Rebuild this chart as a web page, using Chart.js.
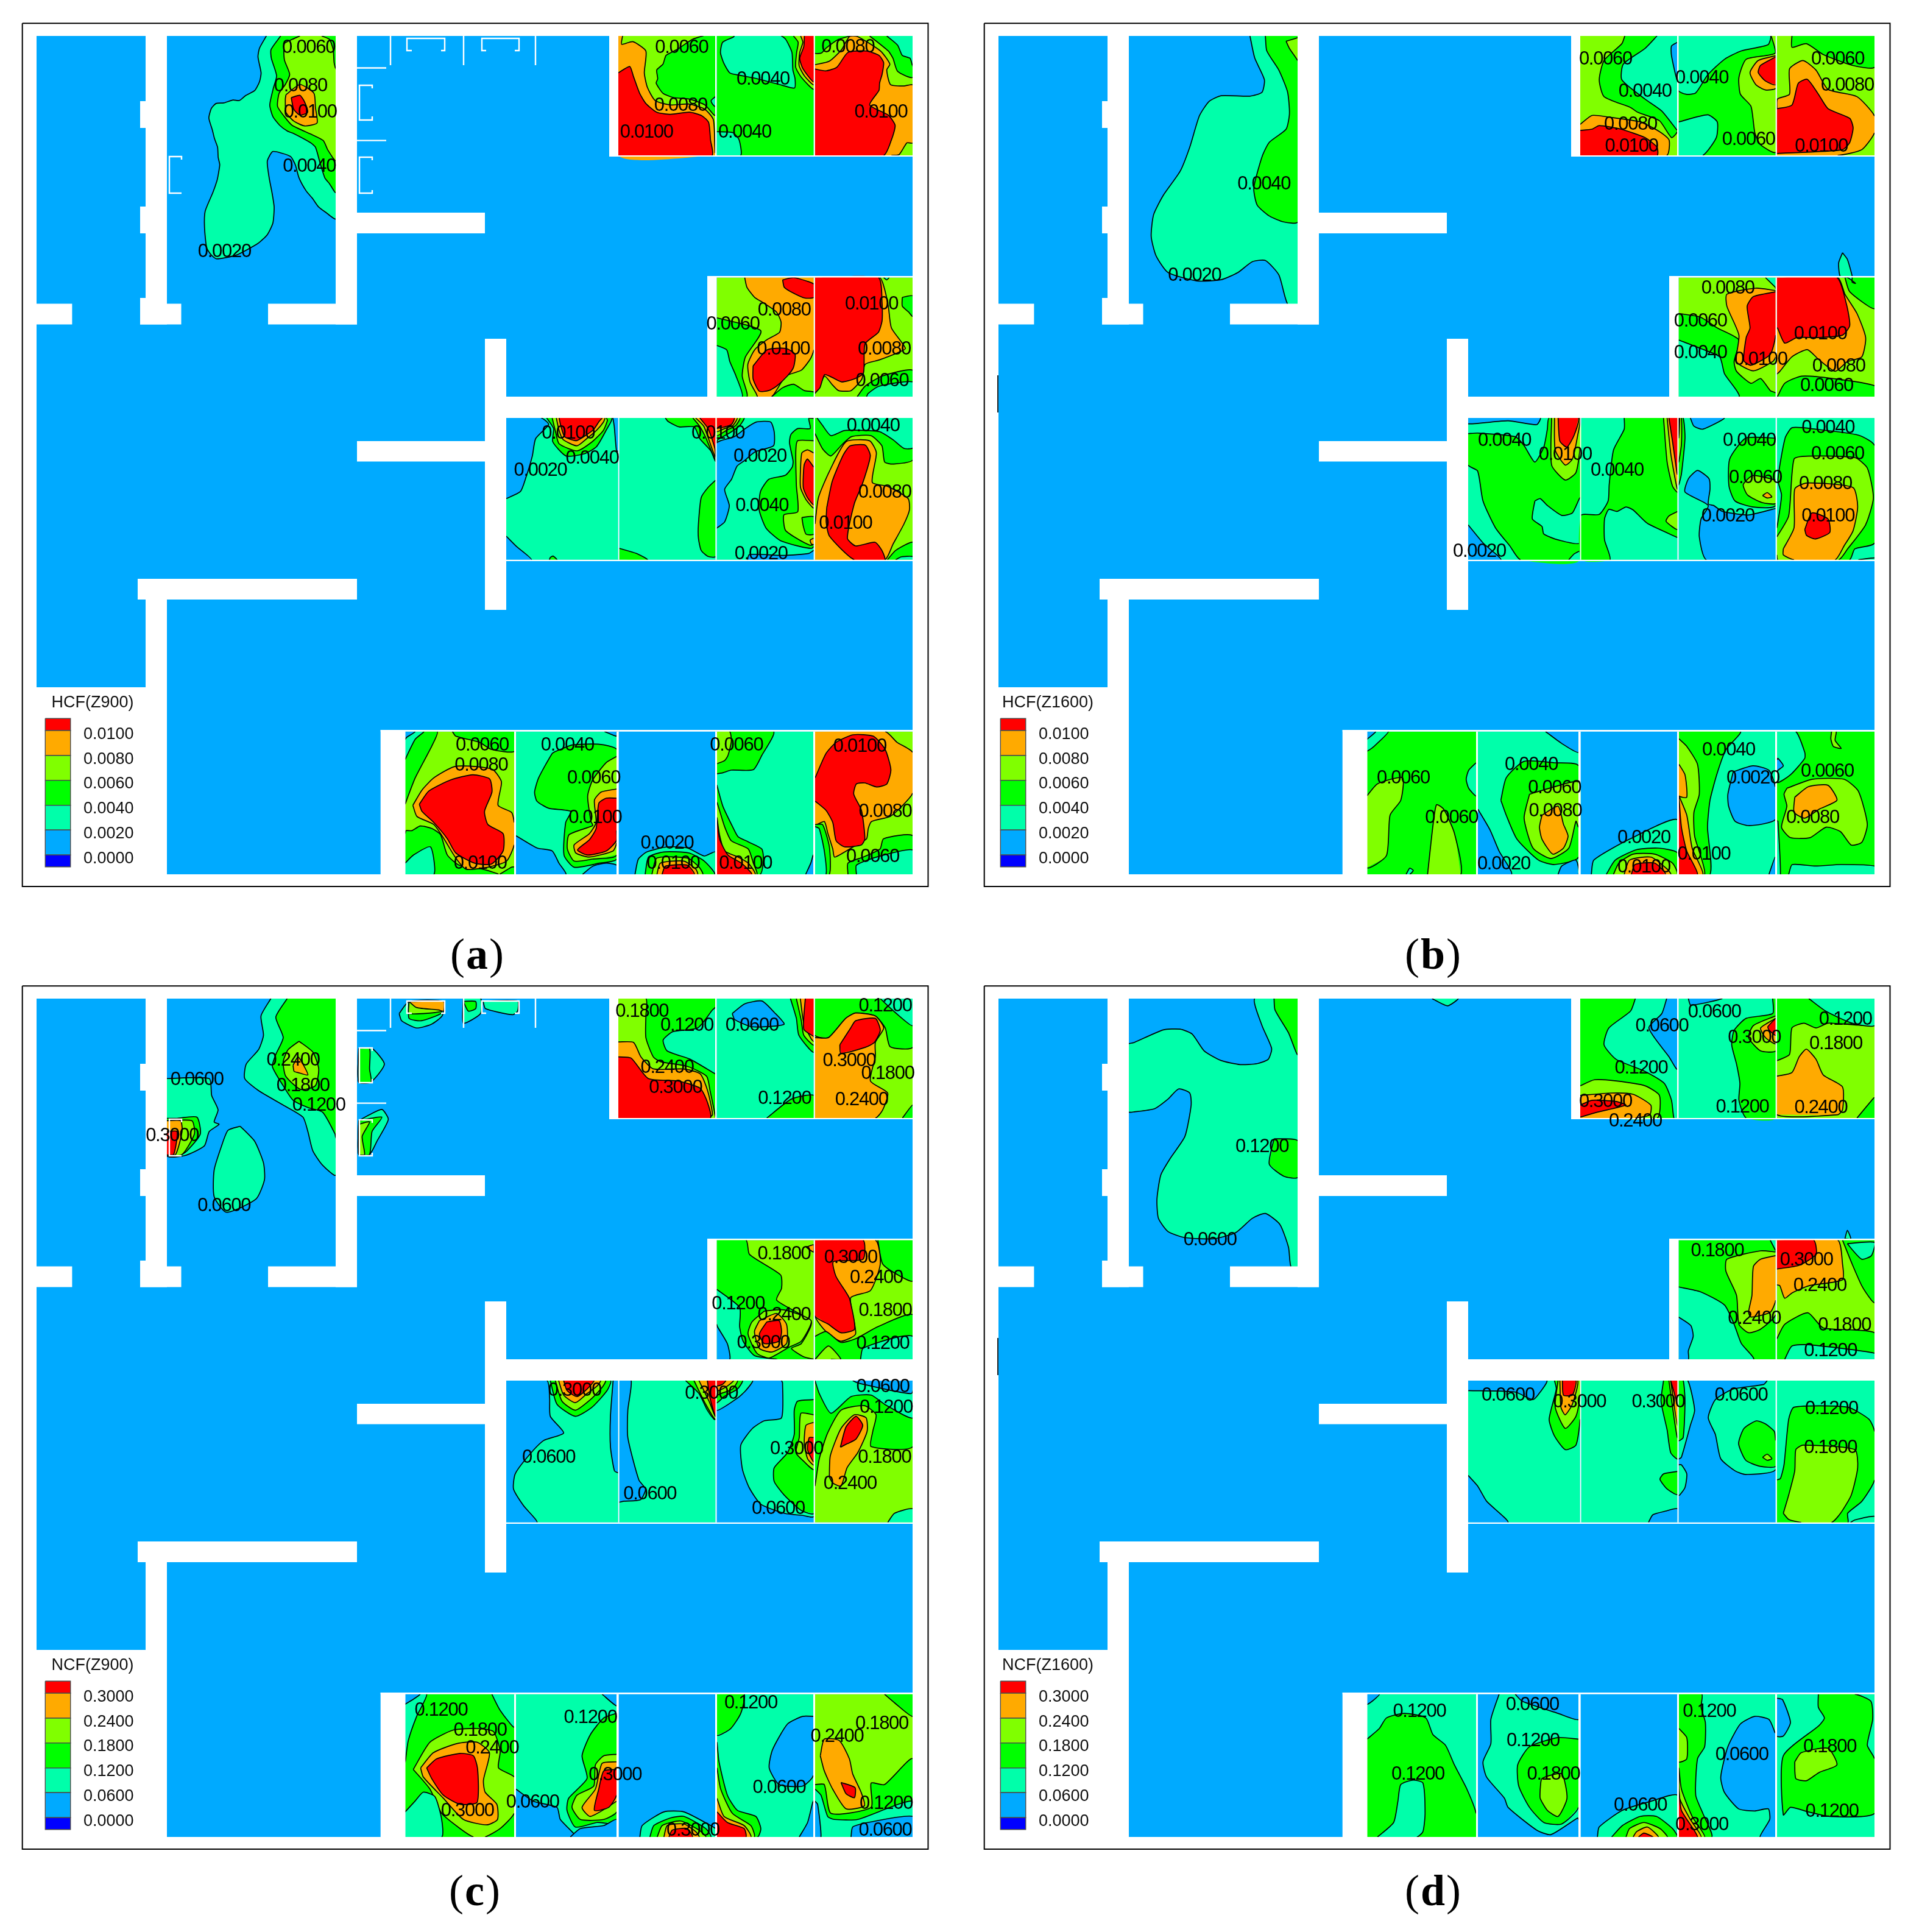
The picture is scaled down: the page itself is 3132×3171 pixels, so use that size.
<!DOCTYPE html>
<html>
<head>
<meta charset="utf-8">
<script src="https://cdn.jsdelivr.net/npm/chart.js@4/dist/chart.umd.js"></script>
<style>
  html, body { margin: 0; background: #fff; }
  #page { position: relative; width: 3132px; height: 3171px; overflow: hidden; }
  canvas { position: absolute; }
  .cap { position: absolute; font: 72px "Liberation Serif", serif; letter-spacing: 2px; transform: translateX(-50%); line-height: 80px; color: #000; }
  .cap b { font-weight: bold; }
</style>
</head>
<body>
<div id="page"></div>
<script>
/* ================= floor plan, digitised in plan pixels (panel a frame) ================= */
const levelColors = ['#00aaff', '#00ffaa', '#00ff00', '#80ff00', '#ffaa00', '#ff0000'];

const roomRects = {
  r1: [274, 59, 551, 498.6], hall: [586, 59, 1000, 349], open: [60, 59, 1498, 1435],
  t1: [1015, 59, 1174, 255], t2: [1176.5, 59, 1335.7, 255], t3: [1337.8, 59, 1498, 255],
  m1: [1176.5, 455.5, 1335.7, 651], m2: [1337.8, 455.5, 1498, 651],
  c1: [831, 686, 1014.7, 918.7], c2: [1016.5, 686, 1174.5, 918.7], c3: [1176.5, 686, 1335.7, 918.7], c4: [1337.8, 686, 1498, 918.7],
  b1: [665, 1200.7, 844, 1435], b2: [847, 1200.7, 1012, 1435], b3: [1015.7, 1200.7, 1174, 1435], b4: [1177, 1200.7, 1335, 1435], b5: [1338, 1200.7, 1498, 1435],
};

const wallRects = [
  [40,40,1522,59],[1498,40,1522,1453],[40,1435,1522,1453],[40,40,60,1453],
  [239,59,274,532.5],[230,166,239,210],[230,339,239,383],[230,489,239,532.5],
  [60,498.6,118.4,532.5],[230,498.6,297.5,532.5],[440,498.6,586,532.5],[551,59,586,532.5],
  [586,349,796,383],[586,724,796,757.5],[796,556,831,1001],[831,651,1498,686],
  [1000,59,1015,257],[1000,255,1498,257],[1174,59,1176.5,255],[1335.7,59,1337.8,255],
  [1161,453,1176.5,651],[1161,453,1498,455.5],[1335.7,455.5,1337.8,651],
  [1014.7,686,1016.5,918.7],[1174.5,686,1176.5,918.7],[1335.7,686,1337.8,918.7],[831,918.7,1498,921],
  [226,950,586,984],[239,984,274,1435],[60,1128,239,1435],
  [624.7,1198,665.5,1435],[624.7,1198,1498,1200.7],
  [844,1200.7,847,1435],[1012,1200.7,1015.7,1435],[1174,1200.7,1177,1435],[1335,1200.7,1338,1435],
];

// thin white door marks, only in the Z900 panels
const doorMarks = [
  [641,59,641,107],[761,59,761,107],[879,59,879,107],
  [586,111.5,634,111.5],[586,230.6,634,230.6],
  [676,83,668,83,668,63,730,63,730,83,724,83],
  [798,83,791,83,791,63,852,63,852,83,845,83],
  [611,145,611,140,590,140,590,197,611,197,611,191],
  [611,263,611,258,590,258,590,317,611,317,611,312],
  [298,262,298,257,278,257,278,317,298,317],
];
const sideMark = [59, 616, 59, 677];

const panelBox = [36.7, 38.3, 1523.5, 1455];
const legendBar = [74.3, 115.7];
const legendEdges = [1179.3, 1199, 1240, 1280.7, 1321.7, 1362.3, 1403.3, 1422.7];
const legendColors = ['#ff0000', '#ffaa00', '#80ff00', '#00ff00', '#00ffaa', '#00aaff', '#0000ff'];
const legendTickY = [1206, 1246.7, 1287, 1328, 1368.7, 1409.3];
const hcfTicks = ['0.0100', '0.0080', '0.0060', '0.0040', '0.0020', '0.0000'];
const ncfTicks = ['0.3000', '0.2400', '0.1800', '0.1200', '0.0600', '0.0000'];

/* ------------------------------------------------------------------
   readings were taken off enlarged crops: [originX, originY, scaleX, scaleY]
   ------------------------------------------------------------------ */
const crops = {
  f1: [0, 0, 1.96, 2.09],      f2: [800, 0, 1.96, 2.09],
  f4: [800, 660, 2.208, 3],    f5: [640, 1190, 1.802, 3],
  f6: [283, 40, 1.2645, 2.529], f7: [603, 670, 1.704, 2.036],
  f8: [230, 40, 1.2346, 2.529], f9: [640, 660, 1.823, 2.01],
  f11: [603, 660, 1.704, 2.01],
};

/* ================= contour bands: [room, level, crop x,y ...] ================= */
const hcf900Upper = ['f1', [
  ['r1',0],
  ['r1',1,[857,118,835,165,830,195,840,250,835,280,820,310,790,328,770,345,750,343,720,353,695,355,680,372,672,405,683,445,690,475,700,505,702,540,707,565,702,600,698,620,685,660,660,725,658,780,665,850,680,875,697,888,760,875,830,835,860,805,878,765,882,710,875,660,866,610,860,553,877,520,905,525,935,537,950,565,962,610,985,655,1005,680,1025,710,1050,730,1095,750,1095,115]],
  ['r1',2,[903,118,872,170,873,200,890,260,880,300,868,360,878,400,900,430,925,450,945,458,1000,490,1015,505,1030,560,1045,610,1060,630,1095,660,1095,115]],
  ['r1',3,[965,118,940,135,915,150,915,205,932,255,918,290,898,320,893,365,915,400,940,430,1000,460,1040,482,1055,515,1095,550,1095,115]],
  ['r1',2,[1035,118,1060,135,1072,170,1075,215,1095,235,1095,118]],
  ['r1',4,[920,325,965,290,1010,320,1015,370,1020,422,980,432,945,415,920,385,918,340]],
  ['r1',5,[937,335,965,327,980,350,990,385,965,395,945,375]],
]];
const hcf900Top = ['f2', [
  ['t1',3],
  ['t1',2,[740,120,695,123,660,135,610,170,575,190,565,220,545,240,548,270,543,285,565,320,600,335,650,340,700,360,740,395]],
  ['t1',1,[740,332,720,345,725,358,740,365]],
  ['t1',4,[435,115,432,152,468,143,510,175,505,250,515,300,540,345,590,360,650,357,700,375,727,410,732,500,745,525,745,545,410,545,410,115]],
  ['t1',5,[410,250,458,228,470,262,490,320,510,355,545,385,590,392,650,385,690,397,712,420,718,480,722,545,410,545]],
  ['t2',2],
  ['t2',1,[795,118,790,128,757,145,750,180,760,215,780,250,810,258,860,268,940,290,988,302,990,270,983,240,980,180,960,135,945,118]],
  ['t2',1,[730,452,790,455,810,480,815,545,730,545]],
  ['t2',3,[985,118,1000,145,995,180,992,230,1010,265,1060,305,1060,118]],
  ['t2',4,[1008,118,1015,145,1005,180,1003,225,1020,260,1060,290,1060,118]],
  ['t2',5,[1020,118,1018,160,1005,200,1015,235,1060,280,1060,118]],
  ['t3',3],
  ['t3',2,[1045,115,1045,182,1075,182,1090,165,1130,135,1165,115]],
  ['t3',2,[1230,115,1290,175,1305,200,1320,245,1380,265,1380,115]],
  ['t3',1,[1285,115,1320,155,1335,190,1360,200,1380,225,1380,115]],
  ['t3',4,[1045,222,1100,210,1140,170,1165,125,1190,125,1265,175,1295,220,1285,240,1297,290,1340,295,1380,292,1380,490,1350,490,1325,530,1300,545,1045,545]],
  ['t3',5,[1045,237,1090,243,1125,230,1160,180,1220,175,1260,190,1275,215,1270,255,1262,285,1260,310,1230,360,1290,395,1312,430,1300,480,1275,545,1045,545]],
  ['m1',3],
  ['m1',2,[730,1090,880,1135,830,1225,820,1290,835,1370,730,1370]],
  ['m1',1,[730,1185,770,1200,780,1240,800,1290,820,1370,730,1370]],
  ['m1',4,[828,945,835,985,860,1020,890,1040,930,1070,945,1105,940,1140,900,1165,860,1200,838,1250,845,1310,865,1350,870,1370,915,1370,960,1290,1010,1270,1040,1230,1060,1200,1060,945]],
  ['m1',5,[950,960,985,950,1030,965,1060,975,1060,1020,1020,1022,975,1000,955,985]],
  ['m1',5,[855,1255,900,1200,960,1195,990,1215,985,1260,965,1290,930,1325,905,1340,875,1342,855,1300]],
  ['m1',2,[915,1370,950,1330,985,1318,1020,1340,1060,1345,1060,1370]],
  ['m2',3],
  ['m2',4,[1045,1370,1045,1350,1065,1335,1085,1290,1110,1320,1130,1340,1170,1340,1205,1300,1215,1250,1260,1235,1320,1210,1345,1195,1300,1125,1290,1050,1275,980,1262,945,1045,945]],
  ['m2',5,[1045,945,1258,945,1270,1040,1270,1100,1258,1140,1215,1180,1210,1280,1180,1300,1140,1310,1110,1295,1085,1285,1070,1330,1045,1345]],
  ['m2',2,[1335,1020,1375,1015,1375,1085,1355,1070,1335,1050]],
  ['m2',2,[1190,1370,1215,1325,1270,1290,1375,1270,1375,1370]],
  ['m2',1,[1220,1370,1225,1350,1260,1325,1375,1310,1375,1370]],
  ['m2',1,[1275,945,1285,960,1292,945]],
]];
const hcf900Mid = ['f4', [
  ['c1',1],
  ['c1',0,[60,70,195,70,222,110,175,180,163,265,140,370,120,440,68,475,60,475]],
  ['c1',0,[60,660,105,710,160,785,60,785]],
  ['c1',0,[455,70,478,70,478,240,468,240,460,120]],
  ['c1',2,[215,70,240,130,237,195,285,265,350,255,395,220,430,140,450,70]],
  ['c1',3,[235,70,248,150,260,205,325,240,380,195,420,140,435,90,430,70]],
  ['c1',4,[250,70,260,140,275,185,325,215,360,180,395,140,420,100,425,70]],
  ['c1',5,[260,70,265,110,280,170,322,190,355,165,385,135,405,95,415,70]],
  ['c1',2,[225,785,228,765,238,758,252,785]],
  ['c2',1],
  ['c2',2,[645,70,655,95,695,122,750,122,770,180,810,240,835,290,835,70]],
  ['c2',3,[745,70,770,120,790,170,835,280,835,70]],
  ['c2',4,[755,70,785,120,835,270,835,70]],
  ['c2',5,[770,70,800,130,825,230,835,270,835,70]],
  ['c2',2,[835,385,800,420,775,470,765,600,765,670,775,730,800,760,835,760]],
  ['c2',2,[465,720,540,745,580,785,465,785]],
  ['c3',1],
  ['c3',0,[820,200,845,190,895,170,935,130,975,98,1027,98,1040,150,1037,215,970,245,930,290,905,315,885,380,860,430,877,510,860,590,832,620,820,620]],
  ['c3',0,[1190,730,1165,745,1080,755,950,750,945,785,1190,785]],
  ['c3',2,[825,70,930,70,915,115,880,150,835,185,825,200]],
  ['c3',3,[825,70,915,70,900,115,865,140,825,165]],
  ['c3',4,[825,70,905,70,890,115,860,130,825,145]],
  ['c3',5,[825,70,895,70,885,110,860,122,825,128]],
  ['c3',2,[1190,80,1165,80,1170,130,1125,130,1100,160,1095,200,1108,290,1105,320,1080,360,1020,380,990,440,985,530,1010,620,1060,680,1130,710,1175,720,1190,710]],
  ['c3',3,[1190,190,1125,190,1118,240,1120,410,1125,540,1075,555,1080,630,1120,670,1170,705,1190,700]],
  ['c3',2,[1140,568,1190,565,1190,650,1155,650,1145,610]],
  ['c3',4,[1190,250,1160,235,1140,250,1135,330,1135,420,1155,480,1190,520]],
  ['c3',5,[1190,320,1160,280,1148,310,1145,420,1160,470,1190,505]],
  ['c3',4,[1190,670,1170,680,1175,700,1190,700]],
  ['c4',3],
  ['c4',2,[1180,155,1215,230,1245,265,1285,210,1320,170,1390,165,1430,215,1440,295,1470,305,1550,285,1550,70,1180,70]],
  ['c4',1,[1195,70,1215,115,1245,165,1295,140,1420,145,1470,185,1510,228,1550,225,1550,70]],
  ['c4',4,[1180,600,1200,470,1240,340,1300,195,1385,190,1410,250,1395,395,1450,415,1525,475,1530,530,1510,600,1470,700,1440,785,1180,785]],
  ['c4',5,[1230,520,1250,390,1290,260,1315,215,1370,212,1388,265,1360,400,1330,500,1305,670,1335,708,1405,690,1430,730,1440,785,1330,785,1240,660,1228,590]],
  ['c4',2,[1450,785,1480,730,1550,690,1550,785]],
  ['c4',1,[1480,785,1500,762,1550,760,1550,785]],
]];
const hcf900Low = ['f5', [
  ['b1',3],
  ['b1',2,[35,25,140,25,125,100,75,260,45,390,35,395]],
  ['b1',1,[35,25,100,25,75,70,45,170,35,175]],
  ['b1',0,[35,25,75,25,50,60,35,70]],
  ['b1',2,[185,25,195,55,265,85,300,120,375,130,375,25]],
  ['b1',2,[35,535,48,520,65,520,90,497,125,510,150,540,170,640,205,690,275,710,320,745,35,745]],
  ['b1',1,[35,680,70,640,120,600,130,745,35,745]],
  ['b1',2,[325,745,360,700,375,700,375,745]],
  ['b1',4,[68,395,95,320,130,260,190,205,260,205,305,220,330,280,320,395,360,430,375,480,375,590,345,670,290,700,225,710,195,655,160,560,130,490,80,450]],
  ['b1',5,[87,390,115,325,180,270,245,245,295,265,302,330,280,425,290,490,335,535,335,620,300,685,250,680,195,630,170,560,130,480,95,425]],
  ['b2',1],
  ['b2',2,[490,130,540,98,620,95,672,120,680,330,680,660,620,680,545,700,515,640,520,480,535,425,470,410,435,375,428,330,440,260,480,140]],
  ['b2',3,[680,155,640,185,600,270,585,350,595,475,600,495,530,540,525,610,545,670,600,660,680,640]],
  ['b2',4,[680,315,625,330,605,370,610,480,590,535,545,590,550,630,590,650,660,620,680,580]],
  ['b2',5,[680,360,640,360,618,385,610,510,590,565,555,615,585,640,640,620,670,570,680,520]],
  ['b2',0,[365,545,435,605,480,620,500,680,520,745,365,745]],
  ['b2',0,[570,745,600,695,640,680,680,690,680,745]],
  ['b2',0,[635,25,670,55,680,25]],
  ['b3',0],
  ['b3',1,[725,745,735,660,760,625,820,600,880,605,930,645,970,625,970,745]],
  ['b3',2,[755,745,765,650,810,625,885,630,930,670,960,745]],
  ['b3',3,[775,745,790,655,880,655,915,700,925,745]],
  ['b3',4,[790,745,800,680,870,670,905,710,910,745]],
  ['b3',5,[805,745,815,695,880,690,900,745]],
  ['b4',1],
  ['b4',2,[960,240,985,235,1010,222,1075,220,1100,150,1135,25,960,25]],
  ['b4',3,[960,25,1005,25,1010,80,1000,150,990,175,968,190,960,190]],
  ['b4',0,[1230,745,1245,680,1260,640,1260,745]],
  ['b4',2,[960,295,968,300,985,400,1015,505,1030,550,1060,575,1100,610,1105,660,1095,745,960,745]],
  ['b4',3,[960,380,975,420,990,500,1010,570,1060,610,1075,680,1085,745,960,745]],
  ['b4',4,[960,455,975,540,990,620,1030,650,1060,680,1080,745,960,745]],
  ['b4',5,[960,460,975,560,1000,640,1040,680,1070,745,960,745]],
  ['b5',3],
  ['b5',4,[1250,25,1465,25,1500,85,1556,135,1556,335,1520,390,1480,450,1425,475,1415,510,1410,560,1380,590,1340,630,1315,650,1310,610,1295,530,1285,475,1250,490]],
  ['b5',5,[1250,260,1290,140,1320,85,1370,48,1430,55,1465,120,1482,220,1470,290,1440,305,1405,285,1380,290,1372,340,1395,420,1405,560,1395,590,1345,600,1320,570,1310,480,1290,420,1258,375,1250,375]],
  ['b5',2,[1250,490,1280,490,1300,600,1300,745,1250,745]],
  ['b5',2,[1355,745,1355,680,1400,650,1450,610,1460,560,1556,545,1556,745]],
  ['b5',1,[1380,745,1380,690,1440,650,1556,615,1556,745]],
  ['b5',1,[1250,500,1270,510,1285,620,1290,745,1250,745]],
]];

const hcf1600Upper = ['f6', [
  ['r1',0],
  ['r1',1,[240,40,250,140,270,230,265,282,240,298,180,296,155,320,135,380,115,510,95,610,60,710,40,790,35,880,45,960,70,1030,130,1065,180,1060,215,1030,245,985,272,980,300,1040,318,1170,350,1170,350,40]],
  ['r1',2,[272,40,275,110,300,190,318,280,322,370,315,435,280,490,265,550,248,680,255,750,280,795,310,820,350,820,350,40]],
  ['r1',3,[315,70,340,55,350,40,350,160,340,150,322,100]],
  ['t1',3],
  ['t1',2,[1018,40,1012,80,975,150,965,230,975,300,1030,345,1045,365,1090,400,1115,470,1135,445,1135,40]],
  ['t1',1,[1085,40,1060,100,1015,165,1012,230,1060,310,1095,360,1128,440,1135,440,1135,40]],
  ['t1',0,[1135,75,1115,90,1115,130,1135,230]],
  ['t1',4,[920,415,950,378,985,385,1050,405,1090,445,1110,480,1105,550,920,550]],
  ['t1',5,[920,440,950,435,965,420,1010,435,1060,470,1085,510,1085,550,920,550]],
  ['t2',2],
  ['t2',1,[1125,40,1320,40,1315,85,1260,110,1225,145,1190,210,1165,285,1145,290,1125,275]],
  ['t2',3,[1322,40,1330,120,1270,145,1255,220,1258,290,1280,340,1288,450,1300,500,1340,530,1340,40]],
  ['t2',4,[1340,130,1295,150,1278,200,1290,250,1310,272,1340,265]],
  ['t2',5,[1340,135,1300,170,1295,200,1310,235,1340,250]],
  ['t2',1,[1125,405,1190,375,1210,405,1208,470,1180,550,1125,550]],
  ['t3',3],
  ['t3',2,[1365,40,1365,95,1395,80,1430,125,1490,170,1540,178,1540,40]],
  ['t3',4,[1330,350,1335,310,1360,290,1360,185,1388,150,1415,190,1440,270,1500,300,1540,380,1540,450,1510,520,1460,550,1330,550]],
  ['t3',5,[1330,350,1365,335,1378,245,1397,228,1420,290,1440,350,1485,390,1492,430,1485,490,1470,520,1400,530,1340,535,1330,535]],
  ['m1',3],
  ['m1',2,[1125,1200,1175,1215,1210,1260,1255,1310,1245,1400,1250,1440,1280,1490,1300,1470,1320,1520,1340,1530,1340,1555,1125,1555]],
  ['m1',1,[1125,1310,1175,1345,1215,1380,1225,1450,1255,1555,1125,1555]],
  ['m1',4,[1340,1105,1290,1095,1230,1120,1230,1170,1255,1290,1250,1400,1285,1438,1325,1400,1340,1380]],
  ['m1',5,[1340,1110,1285,1130,1272,1170,1278,1260,1270,1300,1265,1395,1280,1415,1320,1370,1340,1290]],
  ['m1',1,[1310,1045,1330,1090,1340,1095,1340,1045]],
  ['m2',3],
  ['m2',4,[1330,1045,1460,1045,1475,1120,1500,1200,1518,1300,1510,1380,1480,1400,1455,1440,1420,1390,1397,1350,1365,1380,1340,1440,1330,1450]],
  ['m2',5,[1330,1045,1458,1045,1478,1160,1485,1250,1470,1290,1420,1300,1375,1300,1350,1323,1335,1260,1330,1260]],
  ['m2',2,[1475,1045,1485,1110,1540,1180,1540,1045]],
  ['m2',2,[1335,1555,1350,1490,1385,1460,1450,1470,1540,1500,1540,1555]],
  ['open',1,[1470,948,1480,975,1490,1045,1490,1070,1497,1075,1480,1050,1465,1045,1462,990]],
]];
const hcf1600Low = ['f7', [
  ['c1',1],
  ['c1',2,[385,85,415,83,520,95,545,125,575,180,600,130,610,70,615,25,710,25,710,515,535,515,505,460,465,400,430,310,415,210,385,190]],
  ['c1',0,[385,25,590,25,580,55,500,42,385,52]],
  ['c1',0,[385,390,430,450,480,515,385,515]],
  ['c1',1,[575,310,590,302,610,325,650,358,680,350,710,300,710,450,640,440,600,420,595,395,568,370]],
  ['c1',1,[670,515,685,487,710,478,710,515]],
  ['c1',3,[622,25,622,190,660,240,690,215,710,130,710,25]],
  ['c1',4,[630,25,632,140,660,190,680,170,695,90,700,25]],
  ['c1',5,[640,25,645,110,665,130,685,90,697,25]],
  ['c2',1],
  ['c2',2,[825,25,825,70,795,140,783,255,780,310,755,355,695,358,695,515,785,515,770,440,770,370,782,338,805,345,830,330,850,340,890,385,975,432,985,432,985,25]],
  ['c2',3,[935,25,945,180,960,260,985,280,985,25]],
  ['c2',4,[945,25,955,150,968,240,985,270,985,25]],
  ['c2',5,[950,25,960,110,973,220,985,220,985,25]],
  ['c2',3,[985,345,950,360,942,378,985,405]],
  ['c3',1],
  ['c3',0,[1010,25,1020,60,1045,70,1105,25]],
  ['c3',0,[1260,335,1200,350,1170,357,1100,345,1075,325,1060,320,1065,270,1062,235,1030,208,1005,235,995,280,1060,325,1040,370,1035,430,1055,515,1260,515]],
  ['c3',2,[1260,100,1165,100,1120,170,1118,260,1135,310,1185,330,1260,325]],
  ['c3',3,[1260,240,1185,225,1158,255,1170,290,1210,315,1260,318]],
  ['c3',4,[1212,292,1225,282,1238,296,1225,300]],
  ['c3',2,[970,25,990,25,995,100,985,220,970,255]],
  ['c3',3,[970,25,985,25,985,120,975,180]],
  ['c3',5,[970,25,980,25,978,100]],
  ['c4',1],
  ['c4',2,[1245,400,1255,380,1265,290,1255,240,1275,100,1295,65,1360,70,1480,90,1530,125,1530,450,1470,470,1455,515,1245,515]],
  ['c4',3,[1245,430,1285,360,1300,170,1340,160,1470,165,1505,200,1522,300,1500,390,1450,470,1425,515,1255,515,1245,490]],
  ['c4',4,[1270,470,1300,400,1302,270,1335,250,1465,265,1478,330,1465,410,1440,460,1415,507,1300,507,1270,490]],
  ['c4',5,[1330,405,1350,350,1395,370,1400,415,1360,437,1335,425]],
  ['c4',1,[1480,515,1530,500,1530,515]],
  ['b1',2],
  ['b1',3,[100,1295,135,1255,205,1235,200,1310,170,1360,160,1495,100,1535]],
  ['b1',3,[275,1565,290,1395,300,1325,320,1340,350,1420,368,1565]],
  ['b1',1,[420,1185,390,1210,383,1240,390,1270,420,1295]],
  ['b1',1,[100,1075,165,1075,125,1130,100,1145]],
  ['b1',0,[100,1075,130,1075,107,1105,100,1105]],
  ['b1',1,[215,1565,225,1537,235,1545,225,1565]],
  ['b2',1],
  ['b2',2,[480,1310,495,1235,545,1180,630,1185,710,1195,710,1500,630,1525,585,1510,525,1440,495,1360]],
  ['b2',3,[560,1290,630,1265,710,1250,710,1400,690,1380,670,1470,620,1505,570,1470,545,1370]],
  ['b2',4,[595,1360,640,1330,655,1390,668,1430,655,1470,625,1490,595,1440,588,1400]],
  ['b2',0,[410,1340,450,1410,475,1480,510,1565,410,1565]],
  ['b2',0,[605,1075,650,1120,710,1150,710,1075]],
  ['b2',0,[640,1565,650,1530,690,1510,710,1565]],
  ['b3',0],
  ['b3',1,[733,1565,740,1510,840,1440,985,1375,985,1565]],
  ['b3',2,[775,1565,800,1510,860,1475,920,1470,985,1485,985,1565]],
  ['b3',3,[795,1565,810,1520,850,1490,910,1490,960,1520,975,1565]],
  ['b3',4,[825,1565,840,1510,900,1500,945,1540,955,1565]],
  ['b3',5,[845,1565,855,1525,910,1520,940,1565]],
  ['b4',1],
  ['b4',2,[970,1075,1150,1075,1110,1140,1085,1220,1065,1310,1058,1400,1065,1565,970,1565]],
  ['b4',3,[970,1105,1000,1130,1030,1190,1035,1290,1020,1350,1022,1430,1050,1565,970,1565]],
  ['b4',4,[970,1190,995,1225,1000,1300,970,1295]],
  ['b4',4,[970,1295,1000,1360,1015,1470,1045,1565,970,1565]],
  ['b4',5,[970,1300,985,1400,1000,1480,1030,1565,970,1565]],
  ['b4',0,[1130,1215,1185,1195,1230,1210,1260,1265,1260,1375,1175,1395,1135,1380,1117,1330,1115,1290]],
  ['b4',0,[1230,1565,1250,1500,1260,1565]],
  ['b5',2],
  ['b5',1,[1245,1075,1305,1075,1330,1150,1330,1170,1290,1225,1245,1250]],
  ['b5',0,[1245,1175,1255,1170,1270,1195,1255,1210,1245,1215]],
  ['b5',3,[1405,1075,1418,1075,1415,1110,1432,1137,1410,1130,1403,1105]],
  ['b5',3,[1280,1270,1350,1240,1440,1240,1480,1280,1505,1390,1490,1450,1460,1460,1430,1415,1390,1400,1345,1435,1290,1435,1265,1400,1280,1330,1272,1290]],
  ['b5',4,[1302,1300,1340,1265,1395,1260,1420,1310,1370,1340,1330,1370,1300,1350]],
  ['b5',1,[1285,1565,1295,1525,1360,1530,1430,1525,1530,1530,1530,1565]],
  ['b5',1,[1245,1565,1245,1380,1255,1380,1262,1565]],
]];

const ncf900Upper = ['f8', [
  ['r1',0],
  ['r1',1,[265,40,245,120,250,200,240,260,215,320,212,380,240,430,290,490,330,540,340,600,350,680,370,740,405,780,405,40]],
  ['r1',2,[298,40,275,125,290,210,275,280,268,330,290,410,310,470,340,500,370,520,395,610,405,625,405,40]],
  ['r1',3,[322,225,350,270,362,340,355,410,325,425,295,370,290,310,300,260]],
  ['r1',4,[310,325,320,290,330,320,340,365,320,355,312,350]],
  ['r1',1,[45,380,140,380,145,450,158,510,150,560,160,570,140,600,130,660,90,700,45,700]],
  ['r1',2,[45,545,75,545,115,540,122,610,95,680,80,700,45,700]],
  ['r1',3,[45,555,105,555,110,610,85,695,45,695]],
  ['r1',4,[45,555,82,555,85,600,72,695,45,695]],
  ['r1',5,[45,600,75,600,68,695,45,695]],
  ['r1',1,[203,578,232,640,250,730,252,800,235,880,175,935,150,870,150,760,165,660,178,595]],
  ['hall',1,[525,110,545,60,615,60,612,120,590,155,560,170,530,140]],
  ['hall',2,[545,60,610,90,610,110,570,140,545,130]],
  ['hall',3,[545,60,612,100,545,110]],
  ['hall',4,[545,60,615,60,615,100,605,95,560,85]],
  ['hall',1,[655,48,690,48,690,110,655,150]],
  ['hall',2,[655,60,680,60,680,90,665,100]],
  ['hall',1,[695,58,765,58,765,100,755,115,700,90]],
  ['hall',1,[443,255,470,255,495,320,470,390,443,395]],
  ['hall',2,[443,255,465,255,465,340,468,395,443,395]],
  ['hall',1,[443,555,465,530,490,508,503,550,480,640,465,695,443,695]],
  ['hall',2,[443,555,490,540,470,600,465,695,443,695]],
  ['hall',3,[443,570,465,560,450,620,455,695,443,695]],
  ['t1',2],
  ['t1',3,[960,40,1025,40,1025,120,1025,210,1040,290,1055,310,1110,330,1148,370,1155,430,1165,530,1175,550,960,550]],
  ['t1',1,[1175,85,1160,95,1130,170,1080,185,1060,220,1068,265,1115,300,1165,360,1175,360]],
  ['t1',4,[960,228,1000,230,1015,290,1040,340,1100,340,1135,360,1150,430,1160,530,1150,550,960,550]],
  ['t1',5,[960,290,995,295,1030,380,1090,390,1135,420,1150,480,1155,550,960,550]],
  ['t2',1],
  ['t2',0,[1200,110,1225,70,1260,58,1285,105,1305,155,1240,165,1205,135]],
  ['t2',2,[1318,40,1330,130,1335,200,1375,270,1375,40]],
  ['t2',3,[1330,40,1340,140,1345,200,1375,240,1375,40]],
  ['t2',4,[1338,40,1345,150,1360,215,1375,225,1375,40]],
  ['t2',5,[1348,40,1345,175,1365,205,1375,205,1375,40]],
  ['t2',2,[1270,550,1320,465,1375,450,1375,550]],
  ['t3',3],
  ['t3',2,[1360,40,1575,40,1575,250,1520,248,1510,170,1490,120,1450,108,1430,130,1395,210,1360,200]],
  ['t3',1,[1500,40,1530,105,1575,160,1575,40]],
  ['t3',4,[1360,210,1395,210,1430,130,1450,108,1490,120,1507,170,1490,230,1490,290,1480,390,1515,440,1505,510,1490,550,1360,550]],
  ['t3',5,[1418,240,1440,170,1450,140,1490,130,1500,180,1488,230,1470,250,1420,275]],
  ['t3',2,[1545,550,1575,490,1575,550]],
  ['m1',3],
  ['m1',2,[1160,1045,1228,1045,1235,1110,1298,1195,1300,1250,1290,1300,1360,1390,1340,1480,1320,1500,1345,1535,1375,1545,1375,1555,1160,1555]],
  ['m1',1,[1160,1255,1215,1330,1215,1410,1222,1470,1245,1530,1290,1555,1160,1555]],
  ['m1',0,[1160,1400,1170,1410,1190,1480,1195,1555,1160,1555]],
  ['m1',3,[1265,1345,1305,1340,1360,1385,1340,1470,1315,1495,1275,1540,1250,1520,1232,1440,1240,1390]],
  ['m1',4,[1255,1385,1290,1355,1310,1400,1310,1480,1280,1515,1255,1500,1245,1430]],
  ['m1',5,[1270,1390,1295,1385,1300,1430,1295,1470,1265,1480,1255,1440]],
  ['m1',4,[1350,1080,1365,1070,1375,1100,1360,1095]],
  ['m2',3],
  ['m2',2,[1495,1045,1505,1150,1540,1200,1575,1220,1575,1045]],
  ['m2',4,[1360,1045,1490,1045,1500,1150,1480,1260,1440,1290,1450,1440,1420,1470,1390,1430,1360,1365]],
  ['m2',5,[1360,1045,1465,1045,1465,1130,1405,1140,1410,1200,1430,1265,1438,1295,1448,1420,1420,1435,1395,1400,1360,1365]],
  ['m2',2,[1360,1450,1390,1430,1420,1475,1450,1460,1495,1410,1575,1360,1575,1555,1360,1555]],
  ['m2',1,[1460,1555,1465,1500,1530,1455,1575,1450,1575,1555]],
  ['m2',3,[1368,1555,1395,1490,1420,1545,1400,1555]],
]];
const ncf900Low = ['f9', [
  ['c1',1],
  ['c1',0,[340,45,470,45,478,110,480,170,520,225,460,250,415,300,375,360,370,410,400,465,440,525,340,525]],
  ['c1',0,[668,45,690,45,690,355,672,350,660,270,660,170]],
  ['c1',2,[480,45,500,130,555,170,605,140,650,85,660,45]],
  ['c1',3,[495,45,515,120,555,150,600,115,635,75,645,45]],
  ['c1',4,[505,45,520,100,555,125,590,95,620,70,630,45]],
  ['c1',5,[520,45,530,85,560,105,590,80,610,45]],
  ['c2',1],
  ['c2',0,[678,45,722,45,712,150,712,240,745,380,765,410,750,445,700,450,678,452]],
  ['c2',2,[885,45,925,95,950,150,970,180,985,180,985,45]],
  ['c2',3,[910,45,945,130,985,180,985,45]],
  ['c2',4,[925,45,955,120,985,170,985,45]],
  ['c2',5,[950,45,958,110,975,170,985,45]],
  ['c3',0],
  ['c3',1,[1172,45,1175,60,1172,175,1120,185,1085,210,1050,265,1055,345,1075,405,1110,460,1180,490,1235,497,1275,500,1275,45]],
  ['c3',1,[970,45,1085,45,1065,85,1040,110,970,150]],
  ['c3',2,[970,45,1055,45,1040,80,1000,105,970,125]],
  ['c3',3,[970,45,1040,45,1025,80,990,95,970,100]],
  ['c3',4,[970,45,1028,45,1010,70,985,85,970,85]],
  ['c3',5,[970,45,1005,45,995,65,970,70]],
  ['c3',2,[1275,115,1220,120,1210,150,1210,230,1190,290,1150,340,1150,385,1180,430,1230,480,1275,490]],
  ['c3',3,[1275,165,1230,160,1225,240,1215,290,1240,320,1275,345]],
  ['c3',4,[1275,190,1245,200,1240,260,1250,310,1275,330]],
  ['c3',5,[1275,240,1255,240,1250,280,1275,320]],
  ['c4',3],
  ['c4',2,[1265,45,1570,45,1570,270,1440,270,1445,220,1455,165,1420,135,1350,150,1310,225,1285,310,1272,400,1265,400]],
  ['c4',1,[1265,45,1285,95,1320,160,1380,105,1440,100,1480,130,1570,175,1570,45]],
  ['c4',0,[1385,45,1400,60,1560,95,1570,45]],
  ['c4',4,[1315,370,1318,300,1350,210,1390,165,1425,175,1428,220,1400,290,1368,340,1350,400,1325,390]],
  ['c4',5,[1348,272,1365,205,1395,170,1415,200,1395,245,1370,260]],
  ['c4',1,[1490,525,1510,490,1570,475,1570,525]],
  ['b1',2],
  ['b1',1,[40,1085,110,1085,80,1160,55,1240,46,1310,40,1310]],
  ['b1',0,[40,1085,90,1085,75,1100,45,1120,40,1120]],
  ['b1',1,[305,1085,330,1140,380,1195,380,1085]],
  ['b1',3,[70,1335,120,1245,190,1205,260,1200,310,1210,330,1275,325,1330,372,1360,380,1410,372,1480,330,1530,285,1558,250,1560,210,1530,155,1480,120,1400]],
  ['b1',1,[40,1475,75,1440,100,1410,135,1425,155,1500,155,1565,40,1565]],
  ['b1',4,[92,1330,130,1280,200,1250,260,1245,298,1280,280,1370,285,1410,320,1450,322,1500,290,1518,220,1500,160,1430,100,1360]],
  ['b1',5,[110,1330,140,1300,210,1282,250,1290,262,1330,265,1400,260,1445,210,1450,160,1420,125,1365]],
  ['b2',1],
  ['b2',2,[690,1150,640,1165,600,1220,575,1290,590,1365,535,1430,530,1470,555,1525,620,1510,690,1510]],
  ['b2',3,[690,1285,640,1290,615,1320,610,1390,560,1420,545,1460,570,1500,640,1500,690,1475]],
  ['b2',4,[690,1310,635,1315,615,1400,575,1460,600,1490,680,1440,690,1430]],
  ['b2',5,[690,1335,640,1340,625,1400,612,1470,655,1460,690,1420]],
  ['b2',0,[370,1400,430,1440,500,1460,510,1500,555,1565,370,1565]],
  ['b2',0,[540,1565,570,1530,640,1520,690,1500,690,1565]],
  ['b2',0,[635,1085,680,1125,690,1085]],
  ['b3',0],
  ['b3',1,[748,1565,755,1520,820,1475,880,1475,960,1520,985,1530,985,1565]],
  ['b3',2,[778,1565,790,1520,840,1495,880,1490,945,1530,960,1565]],
  ['b3',3,[800,1565,815,1520,870,1505,925,1535,945,1565]],
  ['b3',4,[820,1565,830,1520,880,1515,915,1540,925,1565]],
  ['b3',5,[835,1565,845,1535,890,1530,905,1565]],
  ['b4',1],
  ['b4',2,[970,1085,1060,1085,1050,1150,1020,1200,970,1222]],
  ['b4',0,[1275,1160,1235,1160,1190,1185,1145,1270,1135,1330,1165,1385,1235,1390,1275,1355]],
  ['b4',0,[1225,1565,1250,1510,1275,1440,1275,1565]],
  ['b4',2,[970,1245,985,1310,1010,1420,1040,1470,1095,1490,1110,1530,1100,1565,970,1565]],
  ['b4',3,[970,1330,990,1400,1025,1480,1080,1520,1090,1565,970,1565]],
  ['b4',4,[970,1430,1000,1490,1060,1520,1080,1565,970,1565]],
  ['b4',5,[970,1475,1010,1510,1060,1530,1065,1565,970,1565]],
  ['b5',3],
  ['b5',2,[1480,1085,1570,1085,1570,1160,1510,1115]],
  ['b5',2,[1265,1385,1300,1385,1320,1480,1440,1460,1440,1380,1480,1385,1570,1300,1570,1565,1265,1565]],
  ['b5',1,[1265,1400,1290,1420,1310,1490,1330,1500,1400,1500,1570,1440,1570,1565,1265,1565]],
  ['b5',0,[1380,1565,1385,1525,1430,1510,1570,1490,1570,1565]],
  ['b5',0,[1265,1440,1280,1450,1290,1565,1265,1565]],
  ['b5',4,[1288,1290,1300,1235,1345,1240,1375,1300,1385,1350,1410,1410,1420,1455,1365,1465,1325,1400,1300,1340]],
  ['b5',5,[1350,1378,1392,1395,1390,1428,1365,1415]],
]];

const ncf1600Upper = ['f6', [
  ['r1',0],
  ['r1',1,[-20,235,0,230,60,178,95,175,120,195,145,265,180,305,220,322,255,318,278,300,285,255,265,160,250,40,350,40,350,1170,325,1170,320,1080,302,985,272,940,245,960,210,1020,165,1045,105,1040,70,1015,50,960,47,880,55,780,75,710,105,620,118,490,115,440,92,423,70,465,42,505,0,518,-20,518]],
  ['r1',2,[290,40,292,95,320,190,350,280,350,40]],
  ['r1',2,[290,630,350,638,350,790,310,785,280,735]],
  ['hall',1,[618,40,650,78,672,40]],
  ['t1',2],
  ['t1',1,[1040,40,1030,100,985,170,975,240,1000,300,1060,350,1100,400,1115,470,1120,550,1135,550,1135,40]],
  ['t1',0,[1105,40,1095,110,1068,170,1110,290,1135,340,1135,40]],
  ['t1',3,[920,410,955,385,1000,390,1060,410,1090,450,1085,550,920,550]],
  ['t1',4,[920,450,990,440,1035,445,1072,490,1070,530,1040,550,920,550]],
  ['t1',5,[920,490,950,470,1000,475,1020,490,960,520,925,540,920,540]],
  ['t2',1],
  ['t2',0,[1150,40,1155,75,1220,40]],
  ['t2',2,[1325,40,1325,110,1270,130,1245,180,1240,240,1250,320,1257,400,1255,470,1270,550,1340,550,1340,40]],
  ['t2',3,[1340,120,1285,160,1275,210,1300,265,1340,265]],
  ['t2',4,[1340,130,1300,170,1310,210,1340,235]],
  ['t2',5,[1340,130,1315,165,1318,180,1340,200]],
  ['t3',3],
  ['t3',2,[1330,40,1540,40,1540,155,1440,150,1415,170,1390,150,1365,170,1360,280,1335,305,1330,305]],
  ['t3',1,[1400,40,1435,100,1490,150,1540,160,1540,40]],
  ['t3',4,[1330,370,1365,355,1380,290,1395,258,1415,300,1430,365,1470,415,1470,510,1460,530,1330,530]],
  ['t3',2,[1500,550,1535,460,1545,460,1545,550]],
  ['m1',2],
  ['m1',3,[1340,1100,1300,1095,1230,1130,1228,1180,1250,1280,1255,1400,1275,1435,1300,1420,1340,1360]],
  ['m1',4,[1340,1115,1300,1130,1285,1160,1282,1280,1275,1350,1280,1370,1320,1350,1340,1300]],
  ['m1',1,[1125,1245,1175,1265,1225,1320,1245,1400,1260,1480,1285,1555,1125,1555]],
  ['m1',0,[1125,1370,1155,1405,1160,1450,1150,1510,1150,1555,1125,1555]],
  ['m1',1,[1320,1045,1330,1090,1340,1095,1340,1045]],
  ['m2',3],
  ['m2',4,[1330,1045,1460,1045,1470,1150,1470,1215,1400,1240,1365,1270,1350,1292,1340,1240,1330,1235]],
  ['m2',5,[1330,1045,1410,1045,1415,1110,1380,1155,1335,1170,1330,1170]],
  ['m2',2,[1470,1045,1490,1150,1510,1240,1530,1300,1540,1310,1540,1045]],
  ['m2',1,[1480,1065,1540,1060,1530,1115,1510,1130,1490,1090]],
  ['m2',2,[1330,1460,1350,1400,1398,1352,1430,1415,1540,1435,1540,1555,1330,1555]],
  ['m2',1,[1350,1555,1365,1490,1400,1485,1540,1520,1540,1555]],
  ['open',1,[1475,1045,1480,1010,1487,1045]],
]];
const ncf1600Low = ['f11', [
  ['c1',1],
  ['c1',0,[385,45,608,45,590,90,570,115,520,90,390,85,385,85]],
  ['c1',0,[385,365,415,400,440,450,500,525,385,525]],
  ['c1',2,[630,45,635,80,615,180,630,235,660,280,690,265,710,180,710,45]],
  ['c1',3,[640,45,632,140,660,210,690,170,710,100,710,45]],
  ['c1',4,[645,45,648,140,660,165,680,130,695,45]],
  ['c1',5,[652,45,655,100,680,100,690,45]],
  ['c2',1],
  ['c2',2,[935,45,928,120,945,215,955,290,985,310,985,45]],
  ['c2',3,[950,45,965,180,985,240,985,45]],
  ['c2',4,[955,45,975,200,985,45]],
  ['c2',5,[955,45,975,130,985,130,985,45]],
  ['c2',2,[985,352,935,360,925,378,945,410,985,428]],
  ['c2',0,[893,525,905,495,940,483,985,475,985,525]],
  ['c3',0],
  ['c3',1,[970,45,1003,45,1022,150,1010,200,985,305,970,310]],
  ['c3',1,[1225,45,1215,65,1130,80,1080,115,1060,175,1080,230,1095,310,1135,350,1165,362,1260,345,1260,45]],
  ['c3',2,[1260,250,1245,220,1220,195,1195,185,1160,210,1145,260,1165,315,1205,335,1260,335]],
  ['c3',3,[1212,305,1225,295,1238,310,1225,315]],
  ['c3',1,[970,330,985,330,1000,360,995,405,980,430,970,430]],
  ['c3',2,[970,45,990,45,995,120,990,240,970,250]],
  ['c4',1],
  ['c4',2,[1245,380,1262,375,1272,330,1285,180,1300,140,1450,140,1510,180,1530,220,1530,380,1490,450,1450,490,1450,525,1245,525]],
  ['c4',3,[1270,490,1285,430,1302,350,1305,280,1325,265,1470,280,1478,340,1460,430,1430,490,1405,520,1320,520,1285,510]],
  ['c4',1,[1458,525,1470,512,1530,500,1530,525]],
  ['b1',1],
  ['b1',0,[100,1085,140,1085,120,1110,100,1120]],
  ['b1',2,[100,1235,140,1200,160,1165,210,1150,270,1165,290,1220,325,1255,350,1320,385,1400,412,1480,420,1565,100,1565]],
  ['b1',1,[135,1565,180,1510,192,1440,200,1385,235,1370,262,1380,268,1480,262,1540,245,1565]],
  ['b2',0],
  ['b2',1,[475,1085,452,1170,452,1250,430,1310,440,1360,490,1430,500,1460,580,1535,620,1550,695,1495,710,1500,710,1085]],
  ['b2',0,[520,1085,540,1110,640,1150,710,1170,710,1085]],
  ['b2',2,[710,1235,640,1230,560,1260,527,1320,530,1390,560,1460,600,1510,650,1515,710,1460]],
  ['b2',3,[590,1400,595,1365,650,1350,665,1430,640,1490,610,1470,590,1430]],
  ['b3',0],
  ['b3',1,[750,1565,755,1525,820,1470,900,1440,985,1420,985,1565]],
  ['b3',2,[790,1565,820,1520,870,1490,915,1490,960,1530,975,1565]],
  ['b3',3,[830,1565,840,1530,880,1510,925,1530,945,1565]],
  ['b3',4,[850,1565,860,1540,890,1525,920,1565]],
  ['b3',5,[865,1565,880,1545,905,1565]],
  ['b4',1],
  ['b4',2,[970,1085,1042,1085,1040,1130,1052,1180,1050,1260,1030,1300,1025,1420,1045,1480,1070,1565,970,1565]],
  ['b4',3,[970,1200,1000,1230,1000,1300,970,1310]],
  ['b4',3,[970,1330,985,1400,1015,1490,1050,1565,970,1565]],
  ['b4',4,[970,1340,980,1430,1010,1500,1040,1565,970,1565]],
  ['b4',5,[970,1400,985,1470,1030,1565,970,1565]],
  ['b4',0,[1260,1215,1230,1170,1190,1160,1150,1185,1115,1260,1095,1360,1105,1410,1145,1465,1190,1472,1228,1465,1232,1500,1205,1565,1260,1565]],
  ['b5',1],
  ['b5',2,[1368,1085,1470,1085,1515,1110,1520,1170,1505,1255,1530,1300,1530,1480,1400,1490,1340,1475,1290,1460,1270,1485,1270,1290,1370,1190,1385,1165,1368,1130]],
  ['b5',3,[1302,1310,1320,1280,1395,1265,1420,1320,1370,1345,1335,1372,1305,1365]],
  ['b5',0,[1245,1100,1268,1105,1290,1180,1270,1225,1245,1225]],
]];

/* ================= contour labels: [crop, text, x, y] ================= */
const hcf900Labels = [
  ['f1','0.0060',993,160],['f1','0.0080',967,292],['f1','0.0100',998,382],['f1','0.0040',995,568],['f1','0.0020',722,860],
  ['f2','0.0060',625,160],['f2','0.0080',622,358],['f2','0.0100',512,450],['f2','0.0040',887,268],['f2','0.0040',828,450],['f2','0.0080',1160,158],['f2','0.0100',1266,382],
  ['f2','0.0080',955,1060],['f2','0.0060',790,1108],['f2','0.0100',952,1194],['f2','0.0100',1236,1040],['f2','0.0080',1277,1194],['f2','0.0060',1270,1304],
  ['f4','0.0100',293,147],['f4','0.0040',380,272],['f4','0.0020',192,332],['f4','0.0100',836,147],['f4','0.0020',988,262],['f4','0.0040',995,505],['f4','0.0020',992,742],['f4','0.0040',1398,112],['f4','0.0080',1440,440],['f4','0.0100',1298,593],
  ['f5','0.0060',273,95],['f5','0.0080',270,192],['f5','0.0100',267,675],['f5','0.0040',525,95],['f5','0.0060',603,255],['f5','0.0100',607,450],['f5','0.0020',820,577],['f5','0.0100',838,675],['f5','0.0060',1025,95],['f5','0.0100',1052,675],['f5','0.0100',1390,100],['f5','0.0080',1465,420],['f5','0.0060',1428,642],
];
const hcf1600Labels = [
  ['f6','0.0040',269,658],['f6','0.0020',125,1037],['f6','0.0060',978,140],['f6','0.0040',1060,275],['f6','0.0080',1030,410],['f6','0.0100',1032,503],['f6','0.0040',1178,218],['f6','0.0060',1275,473],['f6','0.0060',1460,140],['f6','0.0080',1480,250],['f6','0.0100',1426,503],
  ['f6','0.0080',1232,1092],['f6','0.0060',1175,1228],['f6','0.0040',1175,1360],['f6','0.0100',1300,1388],['f6','0.0100',1424,1280],['f6','0.0080',1462,1415],['f6','0.0060',1437,1495],
  ['f7','0.0040',490,105],['f7','0.0100',660,152],['f7','0.0020',420,475],['f7','0.0040',805,205],['f7','0.0040',1175,105],['f7','0.0060',1192,228],['f7','0.0020',1115,358],['f7','0.0040',1395,62],['f7','0.0060',1422,150],['f7','0.0080',1388,250],['f7','0.0100',1395,358],
  ['f7','0.0060',207,1233],['f7','0.0060',342,1365],['f7','0.0040',565,1187],['f7','0.0060',630,1265],['f7','0.0080',632,1343],['f7','0.0020',488,1520],['f7','0.0020',880,1433],['f7','0.0100',880,1530],['f7','0.0040',1117,1140],['f7','0.0020',1185,1232],['f7','0.0100',1048,1487],['f7','0.0060',1393,1210],['f7','0.0080',1352,1365],
];
const ncf900Labels = [
  ['f8','0.0600',115,380],['f8','0.3000',65,612],['f8','0.0600',170,905],['f8','0.2400',310,300],['f8','0.1800',330,407],['f8','0.1200',362,487],['f8','0.1800',1017,97],['f8','0.1200',1108,155],['f8','0.2400',1068,330],['f8','0.3000',1085,413],['f8','0.0600',1240,155],['f8','0.1200',1306,460],['f8','0.1200',1510,75],['f8','0.3000',1437,302],['f8','0.1800',1515,355],['f8','0.2400',1462,465],
  ['f8','0.1800',1305,1105],['f8','0.3000',1440,1118],['f8','0.2400',1492,1203],['f8','0.1200',1212,1310],['f8','0.2400',1305,1357],['f8','0.1800',1510,1338],['f8','0.3000',1263,1472],['f8','0.1200',1505,1475],
  ['f9','0.3000',553,82],['f9','0.0600',475,302],['f9','0.3000',962,92],['f9','0.0600',778,423],['f9','0.3000',1217,274],['f9','0.0600',1162,472],['f9','0.0600',1475,70],['f9','0.1200',1485,138],['f9','0.1800',1480,302],['f9','0.2400',1377,388],
  ['f9','0.1200',153,1137],['f9','0.1800',270,1202],['f9','0.2400',306,1262],['f9','0.3000',232,1468],['f9','0.0600',427,1440],['f9','0.1200',600,1160],['f9','0.3000',674,1350],['f9','0.3000',907,1532],['f9','0.1200',1080,1113],['f9','0.0600',1165,1392],['f9','0.1800',1472,1180],['f9','0.2400',1338,1222],['f9','0.1200',1485,1445],['f9','0.0600',1482,1532],
];
const ncf1600Labels = [
  ['f6','0.1200',265,658],['f6','0.0600',157,1045],['f6','0.0600',1095,157],['f6','0.1200',1052,332],['f6','0.3000',978,472],['f6','0.2400',1040,552],['f6','0.0600',1204,100],['f6','0.3000',1287,205],['f6','0.1200',1262,495],['f6','0.1200',1476,130],['f6','0.1800',1456,232],['f6','0.2400',1425,498],
  ['f6','0.1800',1210,1092],['f6','0.3000',1395,1128],['f6','0.2400',1423,1235],['f6','0.2400',1287,1372],['f6','0.1800',1474,1400],['f6','0.1200',1445,1505],
  ['f11','0.0600',500,97],['f11','0.3000',700,120],['f11','0.3000',920,120],['f11','0.0600',1152,97],['f11','0.1200',1405,142],['f11','0.1800',1402,270],
  ['f11','0.1200',252,1140],['f11','0.1200',248,1347],['f11','0.0600',568,1118],['f11','0.1200',570,1238],['f11','0.1800',627,1347],['f11','0.0600',870,1450],['f11','0.3000',1042,1515],['f11','0.1200',1063,1140],['f11','0.0600',1154,1283],['f11','0.1800',1400,1258],['f11','0.1200',1406,1470],
];

const panels = [
  { left: 0,    top: 0,    legendShift: 0,   title: 'HCF(Z900)',  ticks: hcfTicks, bands: [hcf900Upper, hcf900Top, hcf900Mid, hcf900Low], labels: hcf900Labels, doors: true,  caption: 'a', capX: 784,  capY: 1526 },
  { left: 1579, top: 0,    legendShift: -11, title: 'HCF(Z1600)', ticks: hcfTicks, bands: [hcf1600Upper, hcf1600Low], labels: hcf1600Labels, doors: false, caption: 'b', capX: 2353, capY: 1526 },
  { left: 0,    top: 1580, legendShift: 0,   title: 'NCF(Z900)',  ticks: ncfTicks, bands: [ncf900Upper, ncf900Low], labels: ncf900Labels, doors: true,  caption: 'c', capX: 780,  capY: 3063 },
  { left: 1579, top: 1580, legendShift: -11, title: 'NCF(Z1600)', ticks: ncfTicks, bands: [ncf1600Upper, ncf1600Low], labels: ncf1600Labels, doors: false, caption: 'd', capX: 2353, capY: 3063 },
];

/* ------------------------------------------------------------------
   cropToPlan — crop reading to plan pixels
   ------------------------------------------------------------------ */
function cropToPlan(crop, x, y) {
  const c = crops[crop];
  return { x: c[0] + x / c[2], y: c[1] + y / c[3] };
}

function rectPoints(r) {
  return [{ x: r[0], y: r[1] }, { x: r[2], y: r[1] }, { x: r[2], y: r[3] }, { x: r[0], y: r[3] }];
}

function fillSet(points, color) {
  return { data: points, showLine: true, fill: 'shape', backgroundColor: color, borderWidth: 0, pointRadius: 0 };
}

function lineSet(points, color, width) {
  return { data: points, showLine: true, fill: false, borderColor: color, borderWidth: width, pointRadius: 0, tension: 0 };
}

/* ------------------------------------------------------------------
   outlineSet — black contour that stays silent along the room's own edge
   ------------------------------------------------------------------ */
function outlineSet(points, r) {
  const closed = points.concat([points[0]]);
  const set = lineSet(closed, '#000', 1.7);
  set.tension = 0.2;
  set.segment = {
    borderColor: (ctx) => {
      const a = ctx.p0.parsed, b = ctx.p1.parsed;
      const alongX = a.x === b.x && (a.x === r[0] || a.x === r[2]);
      const alongY = a.y === b.y && (a.y === r[1] || a.y === r[3]);
      return alongX || alongY ? 'transparent' : '#000';
    },
  };
  return set;
}

function bandSets(group) {
  const crop = group[0];
  const sets = [];
  group[1].forEach((row) => {
    const r = roomRects[row[0]];
    const color = levelColors[row[1]];
    if (!row[2]) {
      sets.push(fillSet(rectPoints(r), color));
      return;
    }
    const pts = [];
    for (let i = 0; i < row[2].length; i += 2) {
      const p = cropToPlan(crop, row[2][i], row[2][i + 1]);
      pts.push({
        x: Math.min(r[2], Math.max(r[0], p.x)),
        y: Math.min(r[3], Math.max(r[1], p.y)),
      });
    }
    const f = fillSet(pts, color);
    f.tension = 0.2;
    sets.push(f, outlineSet(pts, r));
  });
  return sets;
}

function pairsToPoints(a) {
  const pts = [];
  for (let i = 0; i < a.length; i += 2) pts.push({ x: a[i], y: a[i + 1] });
  return pts;
}

function buildDatasets(panel) {
  let sets = [fillSet(rectPoints([60, 59, 1498, 1435]), levelColors[0])];
  panel.bands.forEach((g) => { sets = sets.concat(bandSets(g)); });
  wallRects.forEach((w) => sets.push(fillSet(rectPoints(w), '#fff')));
  if (panel.doors) {
    doorMarks.forEach((m) => sets.push(lineSet(pairsToPoints(m), '#fff', 2.4)));
  } else {
    sets.push(lineSet(pairsToPoints(sideMark), '#222', 2));
  }
  // legend swatches
  legendColors.forEach((c, i) => {
    const s = panel.legendShift;
    const r = [legendBar[0] + s, legendEdges[i], legendBar[1] + s, legendEdges[i + 1]];
    sets.push(fillSet(rectPoints(r), c));
    sets.push(lineSet(rectPoints(r).concat([{ x: r[0], y: r[1] }]), '#4a4a4a', 1.4));
  });
  const b = rectPoints(panelBox);
  sets.push(lineSet(b.concat([b[0]]), '#000', 2));
  // Chart.js paints the first dataset last
  return sets.reverse();
}

// contour labels and legend text, placed through the chart's scales
const textPlugin = {
  id: 'planText',
  afterDatasetsDraw(chart) {
    const panel = chart.config.options.plugins.planText.panel;
    const { ctx, scales } = chart;
    ctx.save();
    ctx.fillStyle = '#000';
    ctx.textBaseline = 'middle';
    ctx.textAlign = 'center';
    ctx.font = '31px "Liberation Sans", Arial, sans-serif';
    ctx.letterSpacing = '-1.3px';
    panel.labels.forEach((l) => {
      const p = cropToPlan(l[0], l[2], l[3]);
      ctx.fillText(l[1], scales.x.getPixelForValue(p.x), scales.y.getPixelForValue(p.y) + 2);
    });
    ctx.letterSpacing = '0px';
    ctx.font = '27px "Liberation Sans", Arial, sans-serif';
    ctx.fillStyle = '#111';
    ctx.fillText(panel.title, scales.x.getPixelForValue(152 + panel.legendShift), scales.y.getPixelForValue(1154));
    ctx.textAlign = 'left';
    panel.ticks.forEach((t, i) => {
      ctx.fillText(t, scales.x.getPixelForValue(137 + panel.legendShift), scales.y.getPixelForValue(legendTickY[i]));
    });
    ctx.restore();
  },
};

const page = document.getElementById('page');
panels.forEach((panel) => {
  const canvas = document.createElement('canvas');
  canvas.width = 1500;
  canvas.height = 1430;
  canvas.style.left = (30 + panel.left) + 'px';
  canvas.style.top = (30 + panel.top) + 'px';
  page.appendChild(canvas);

  new Chart(canvas.getContext('2d'), {
    type: 'scatter',
    data: { datasets: buildDatasets(panel) },
    plugins: [textPlugin],
    options: {
      responsive: false,
      animation: false,
      devicePixelRatio: 1,
      layout: { padding: 0 },
      events: [],
      plugins: { legend: { display: false }, tooltip: { enabled: false }, planText: { panel } },
      scales: {
        x: { type: 'linear', min: 30, max: 1530, display: false },
        y: { type: 'linear', min: 30, max: 1460, reverse: true, display: false },
      },
    },
  });

  const cap = document.createElement('div');
  cap.className = 'cap';
  cap.style.left = panel.capX + 'px';
  cap.style.top = panel.capY + 'px';
  cap.innerHTML = '(<b>' + panel.caption + '</b>)';
  page.appendChild(cap);
});
</script>
</body>
</html>
